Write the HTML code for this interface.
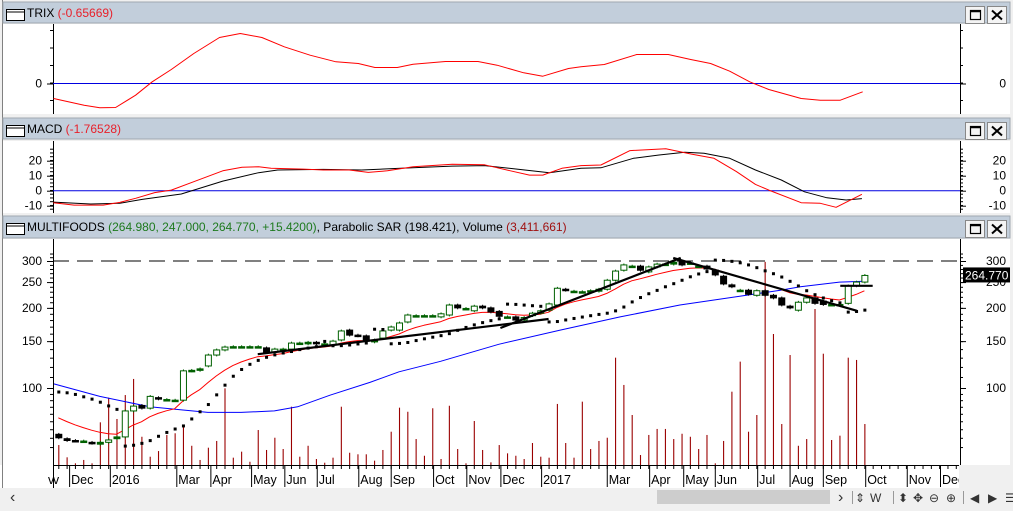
<!DOCTYPE html>
<html><head><meta charset="utf-8"><style>
body{margin:0;width:1013px;height:506px;overflow:hidden;background:#f0f0f0;font-family:"Liberation Sans",sans-serif}
svg text{font-family:"Liberation Sans",sans-serif}
</style></head><body>
<svg id="c" width="1013" height="506" xmlns="http://www.w3.org/2000/svg"></svg>
<script>
const opens=[67,64.5,63.5,63.2,62.5,61.5,62.5,64.5,65.5,82,86,84,92,90.5,90,90,116,116.5,121,133,139,143,143,143,143,141.5,136.5,140,140,147.5,146.5,148.5,146.5,145,151.5,165,158,157,149,154,165,165,177,187,187,187,185,188,205,199,195,203,200,194,185,185,180,187,191,196,205,235,231,230,232,231,235,254,277,287,287,273,285,292,292,300,295,287,287,277,263,244,233,233,223,232,223,218,203,196,210,218,212,206,206,208,242,250];
const closes=[65,63.5,63.2,63.2,62,62.5,63.8,65.5,82,85.5,84,93,91,90.5,90,116,116.5,118,133,139,142.5,143,143,143,143,136.5,140,140,147.5,147.5,148.5,146.5,146.5,150,163.8,158,157,150,151.5,163.8,169.5,175.5,188,187,187,187,190,205,200,199,203,200,193,186,185,180,184,191,195,207,237,233,231,230,232,235,254,275,290,287,277,285,292,292,297,290,295,287,280,266,246,240,233,225,232,223,218,205,200,210,218,208,206,206,206,242,250,264.77];
const volumes=[1.66,0.64,0.14,0.42,0.14,3.55,5.6,3.83,5.82,7.16,2.35,0.69,1.16,2.5,2.64,3.33,1.6,0.42,1.44,2.0,6.38,0.61,1.11,0.27,2.91,1.25,2.27,1.33,4.85,0.69,1.6,0.5,0.19,0.61,4.85,1.02,0.89,0.89,0.36,1.25,2.77,4.77,4.43,2.16,0.77,4.72,0.5,4.93,1.33,0.14,3.66,1.25,0.22,1.66,0.97,0.77,0.5,1.83,0.69,0.61,5.08,1.83,0.61,5.27,1.33,2.0,2.27,8.93,6.66,4.16,0.83,2.5,3.0,3.0,2.16,2.6,2.35,1.33,2.5,0.14,2.0,6.1,8.6,2.77,4.16,16.9,10.9,3.41,9.15,1.6,2.16,12.98,9.26,2.08,2.44,8.93,8.74,3.41];
const maWeeks=[-0.7,5,11,15,18,22,26,28.8,32.7,37.5,41,46,53,60.4,67.6,74.8,82,86.9,89.3,94,97];
const maVals=[104,93,85,82.7,81,81,82,85,94,105,115,126,146,165,185,205,221,233,240,250,252];
const trixWeeks=[-0.57,3.1,5.0,6.9,9.3,11.3,13.6,16.3,19.4,21.9,24.5,27.2,30.3,33.4,36.1,38.1,40.8,42.7,46.6,50.5,52.8,56.0,58.3,61.4,62.9,65.7,69.6,73.4,76.1,78.5,80.8,83.2,85.5,89.4,91.7,94.1,96.8];
const trixVals=[-1.5,-2.17,-2.43,-2.4,-1.17,0.17,1.4,3.0,4.6,5.0,4.6,3.67,2.83,2.17,2.0,1.6,1.6,1.93,2.2,2.2,1.83,1.07,0.73,1.5,1.67,1.9,2.9,2.9,2.4,2.0,1.23,0.17,-0.6,-1.5,-1.67,-1.67,-0.83];
const macdWeeks=[-0.6,1.9,5.4,7.4,9.3,11.6,13.6,16.3,19.8,22.1,24.1,25.6,29.5,31.9,35.0,37.3,39.6,42.7,47.4,51.3,54.4,56.7,58.3,60.6,62.9,65.3,68.8,73.1,76.2,78.9,81.6,83.9,85.5,89.4,91.7,93.6,96.7];
const macdVals=[-8,-9.6,-9.6,-7.8,-5.1,-1.3,0.4,6,13.3,15.6,16,14.9,14.4,13.8,13.8,12.2,13.3,16,17.6,17.3,13.3,10.4,10.4,14.9,16.7,17.1,26.7,28,24.4,21.6,12.7,4.2,0.4,-8,-8.4,-11.1,-2.4];
const sigWeeks=[-0.6,3.9,7.4,10.1,14.8,16.3,19.8,24.1,26.4,31.9,36.5,41.2,47.4,51.3,55.2,59.1,62.9,65.3,69.2,72.3,75.4,77.7,80.8,83.9,87.0,89.8,92.5,94.8,96.7];
const sigVals=[-7.6,-8.9,-8.4,-5.8,-2.2,0.4,6.4,12,13.8,14.2,13.8,14.9,16.4,16.7,14.4,12,14.9,15.3,21.6,23.8,25.6,24.9,21.6,13.8,7.1,-0.7,-4.7,-6.2,-5.3];
const monthLabels=["v","Dec","2016","Mar","Apr","May","Jun","Jul","Aug","Sep","Oct","Nov","Dec","2017","Mar","Apr","May","Jun","Jul","Aug","Sep","Oct","Nov","Dec"];
const monthWeeks=[-0.9,1.3,6.2,14.2,18.3,23.2,27.2,31.1,36.1,40.0,45.1,49.1,53.2,58.1,66.0,71.1,75.2,79.0,84.1,88.0,92.0,97.1,102.1,106.1];
const priceTicks=[300,250,200,150,100];
const macdTicks=[20,10,0,-10];
const trendStartW=[24,53.2,74,94.1], trendStartP=[134,168,308,242];
const trendEndW=[59,74.9,96.1,98], trendEndP=[181.6,308,195,242];
const resistance=300;

const S=document.getElementById('c'),NS='http://www.w3.org/2000/svg';
function mk(t,a,p){const e=document.createElementNS(NS,t);for(const k in a)e.setAttribute(k,a[k]);(p||S).appendChild(e);return e;}
const X0=53,X1=960;
const xW=w=>58.3+w*8.31;
const yP=p=>388-115.6*Math.log(p/100);
const yT=v=>83.5-v*10;
const yM=v=>190.7-v*1.5;
const VB=465,yV=v=>VB-v/0.0832;

function panel(top,titleH,plotTop,plotBot,name,parts){
  let bar=mk('rect',{x:3,y:top,width:1007,height:titleH,fill:'#c2cedb',stroke:'#a0a8b0'});
  
  let ic=mk('rect',{x:6.5,y:top+7.5,width:18,height:11,fill:'#fff',stroke:'#000'});
  
  mk('line',{x1:6.5,y1:top+10,x2:24.5,y2:top+10,stroke:'#000'});
  let t=mk('text',{x:27,y:top+15,'font-size':12});
  
  parts.forEach(p=>{const s=mk('tspan',{fill:p[1]},t);s.textContent=p[0];});
  let b1=mk('rect',{x:965.5,y:top+4.5,width:19,height:17,fill:'#f4f4f4',stroke:'#888'});
  
  mk('rect',{x:970.5,y:top+8.5,width:10,height:9,fill:'none',stroke:'#000','stroke-width':1.2});
  mk('line',{x1:970.5,y1:top+9.5,x2:980.5,y2:top+9.5,stroke:'#000','stroke-width':1.5});
  let b2=mk('rect',{x:987.5,y:top+4.5,width:19,height:17,fill:'#f4f4f4',stroke:'#888'});
  
  mk('path',{d:`M992 ${top+8.5}L1002 ${top+17.5}M1002 ${top+8.5}L992 ${top+17.5}`,stroke:'#000','stroke-width':2});
  let pa=mk('rect',{x:3,y:plotTop,width:1007,height:plotBot-plotTop,fill:'#fff'});
  
  mk('line',{x1:X0+.5,y1:plotTop,x2:X0+.5,y2:plotBot,stroke:'#000'});
  mk('line',{x1:X1+.5,y1:plotTop,x2:X1+.5,y2:plotBot,stroke:'#000'});
}
mk('rect',{x:0,y:0,width:1013,height:506,fill:'#f0f0f0'});
mk('line',{x1:2.5,y1:0,x2:2.5,y2:490,stroke:'#808080'});
panel(2,21,24,114,'trix',[['TRIX ','#000'],['(-0.65669)','#e8202a']]);
panel(118,21,141,213,'macd',[['MACD ','#000'],['(-1.76528)','#e8202a']]);
panel(216,22,239,465,'price',[['MULTIFOODS ','#000'],['(264.980, 247.000, 264.770, +15.4200)','#1e7a1e'],[', Parabolic SAR ','#000'],['(198.421)','#000'],[', Volume ','#000'],['(3,411,661)','#a01010']]);

function axTicks(y,big,label,name){
  mk('line',{x1:X0-(big?6:3),y1:y+.5,x2:X0,y2:y+.5,stroke:'#000'});
  mk('line',{x1:X1,y1:y+.5,x2:X1+(big?6:3),y2:y+.5,stroke:'#000'});
  if(label!==null){
    let a=mk('text',{x:42,y:y+4,'font-size':12,'text-anchor':'end'});a.textContent=label;
    
    let b=mk('text',{x:1006,y:y+4,'font-size':12,'text-anchor':'end'});b.textContent=label;
    
  }
}
function poly(ws,vs,fy,col,name,sw){
  let d=ws.map((w,i)=>(i?'L':'M')+xW(w).toFixed(1)+' '+fy(vs[i]).toFixed(1)).join('');
  let p=mk('path',{d:d,fill:'none',stroke:col,'stroke-width':sw||1,'stroke-linejoin':'round'});
  return p;
}
for(let y=30;y<114;y+=17.5)axTicks(y,false,null,'trix');
axTicks(yT(0),true,'0','trix');
mk('line',{x1:X0,y1:yT(0),x2:X1,y2:yT(0),stroke:'#0000e0'});
poly(trixWeeks,trixVals,yT,'#f00','trix-line');
for(let v=-12;v<=28;v+=2.5)axTicks(yM(v),false,null,'macd');
macdTicks.forEach(v=>axTicks(yM(v),true,String(v),'macd'));
mk('line',{x1:X0,y1:yM(0),x2:X1,y2:yM(0),stroke:'#0000e0'});
poly(sigWeeks,sigVals,yM,'#000','macd-signal-line');
poly(macdWeeks,macdVals,yM,'#f00','macd-line');
const g=mk('g',{});
volumes.forEach((v,i)=>{const l=mk('line',{x1:xW(i)+.5,y1:VB,x2:xW(i)+.5,y2:Math.max(241,yV(v)),stroke:'#9a0000','stroke-width':1.1},g);
});
let rl=mk('line',{x1:X0,y1:yP(resistance),x2:X1,y2:yP(resistance),stroke:'#000','stroke-dasharray':'16 8'});

poly(maWeeks,maVals,yP,'#0000ff','long-moving-average');
let ema=[],e=80;closes.forEach(c=>{e=e+0.18*(c-e);ema.push(e);});
poly(closes.map((c,i)=>i),ema,yP,'#f00','short-moving-average');
closes.forEach((c,i)=>{const o=opens[i],x=xW(i),up=c>=o;
  const hi=Math.max(o,c)*1.012,lo=Math.min(o,c)*0.988;
  const w=mk('line',{x1:x+.5,y1:yP(hi),x2:x+.5,y2:yP(lo),stroke:up?'#006000':'#000'});
  
  const y1=yP(Math.max(o,c)),y2=yP(Math.min(o,c));const flat=y2-y1<2;
  const r=mk('rect',{x:x-2.5,y:y1,width:6,height:Math.max(1.5,y2-y1),fill:(up&&!flat)?'#fff':(up?'#006000':'#000'),stroke:up?'#006000':'#000'});
  
});
(function(){let hi=closes.map((c,i)=>Math.max(c,opens[i])*1.012),lo=closes.map((c,i)=>Math.min(c,opens[i])*0.988);
 let up=false,sar=97,ep=lo[0],af=0.02;
 for(let i=0;i<closes.length;i++){
  if(i>0){sar=sar+af*(ep-sar);
   if(up&&lo[i]<sar){up=false;sar=ep;ep=lo[i];af=0.02;}
   else if(!up&&hi[i]>sar){up=true;sar=ep;ep=hi[i];af=0.02;}
   else{if(up&&hi[i]>ep){ep=hi[i];af=Math.min(0.2,af+0.02);} if(!up&&lo[i]<ep){ep=lo[i];af=Math.min(0.2,af+0.02);}}}
  const d=mk('rect',{x:xW(i)-1,y:yP(sar)-1,width:3,height:3,fill:'#000'});
  }
})();
trendStartW.forEach((w,i)=>{const l=mk('line',{x1:xW(w),y1:yP(trendStartP[i]),x2:xW(trendEndW[i]),y2:yP(trendEndP[i]),stroke:'#000','stroke-width':2.2});
});
mk('rect',{x:3,y:239,width:50,height:226,fill:'#fff'});
mk('line',{x1:X0+.5,y1:239,x2:X0+.5,y2:465,stroke:'#000'});
mk('rect',{x:961,y:239,width:49,height:226,fill:'#fff'});
mk('line',{x1:X1+.5,y1:239,x2:X1+.5,y2:465,stroke:'#000'});
for(let p=60;p<=320;p+=(p<100?5:10)){const y=yP(p);if(y>241&&y<464)axTicks(y,false,null,'price');}
priceTicks.forEach(p=>axTicks(yP(p),true,String(p),'price'));
const lp=yP(closes[closes.length-1]);
let lb=mk('rect',{x:963,y:lp-8,width:47,height:15,fill:'#000'});

let lt=mk('text',{x:965,y:lp+4,'font-size':12,fill:'#fff'});lt.textContent=closes[closes.length-1].toFixed(3);

let xa=mk('rect',{x:3,y:465,width:1007,height:23,fill:'#fff'});

mk('line',{x1:X0,y1:465.5,x2:X1,y2:465.5,stroke:'#000'});
for(let w=-1;w<109;w++){const x=xW(w);if(x>X0&&x<X1)mk('line',{x1:x+.5,y1:465,x2:x+.5,y2:469,stroke:'#000'});}
monthLabels.forEach((m,i)=>{const x=xW(monthWeeks[i]);if(x<X1){
 mk('line',{x1:Math.max(X0,x)+.5,y1:465,x2:Math.max(X0,x)+.5,y2:487,stroke:'#000'});
 const t=mk('text',{x:x+2,y:484,'font-size':12.5,fill:'#000'});t.textContent=m;
 }});
mk('rect',{x:0,y:465,width:53,height:23,fill:'#fff'});
mk('line',{x1:X0+.5,y1:465,x2:X0+.5,y2:488,stroke:'#000'});
mk('text',{x:48,y:484,'font-size':12.5}).textContent='v';
mk('rect',{x:959,y:465,width:54,height:23,fill:'#f0f0f0'});
mk('line',{x1:2.5,y1:465,x2:2.5,y2:488,stroke:'#808080'});
let tb=mk('rect',{x:0,y:488,width:1013,height:18,fill:'#f0f0f0'});

let sc=mk('rect',{x:157,y:491,width:500,height:12,fill:'#f0f0f0'});

let th=mk('rect',{x:657,y:490,width:173,height:14,fill:'#cdcdcd'});

const icons=[['‹',10,'scroll-left'],['›',838,'scroll-right'],['⇕',855,'zoom-fit'],['W',870,'weekly-button'],['⬍',898,'vertical-scale'],['✥',913,'pan-tool'],['⊖',929,'zoom-out'],['⊕',946,'zoom-in'],['◀',970,'previous'],['▶',988,'next'],['☰',1005,'menu']];
icons.forEach(ic=>{const t=mk('text',{x:ic[1],y:502,'font-size':ic[0]=='‹'||ic[0]=='›'?16:12,fill:'#333'});t.textContent=ic[0];
 });
mk('line',{x1:852.5,y1:491,x2:852.5,y2:504,stroke:'#999'});
mk('line',{x1:893.5,y1:491,x2:893.5,y2:504,stroke:'#999'});
mk('line',{x1:963.5,y1:491,x2:963.5,y2:504,stroke:'#999'});
</script>
</body></html>
